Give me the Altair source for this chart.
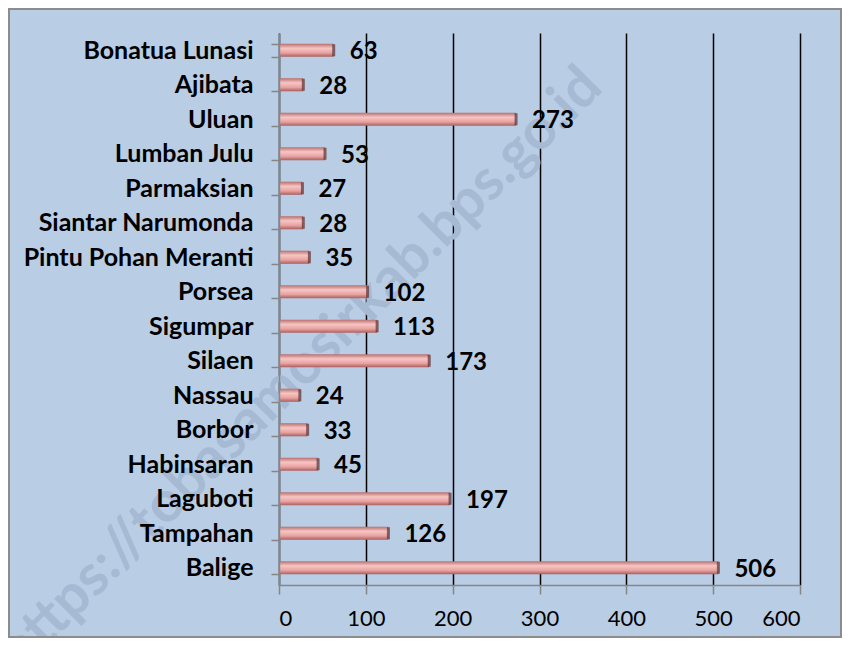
import altair as alt
import pandas as pd

categories = ["Bonatua Lunasi", "Ajibata", "Uluan", "Lumban Julu", "Parmaksian",
              "Siantar Narumonda", "Pintu Pohan Meranti", "Porsea", "Sigumpar",
              "Silaen", "Nassau", "Borbor", "Habinsaran", "Laguboti", "Tampahan", "Balige"]
values = [63, 28, 273, 53, 27, 28, 35, 102, 113, 173, 24, 33, 45, 197, 126, 506]
x_ticks = [0, 100, 200, 300, 400, 500, 600]
watermark = "https://tobasamosirkab.bps.go.id"

df = pd.DataFrame({"kec": categories, "val": values})

FONT = "Lato"
BG = "#B9CDE5"

y_enc = alt.Y("kec:N", sort=categories, title=None,
              scale=alt.Scale(paddingInner=0.62, paddingOuter=0.31),
              axis=alt.Axis(labelFont=FONT, labelFontWeight="bold", labelFontSize=25,
                            labelColor="#000000", labelPadding=18, labelLimit=400,
                            tickBand="extent", zindex=1,
                            tickSize=8, tickColor="#868686", domainColor="#868686",
                            domainWidth=1.5, tickWidth=1.5, grid=False))
x_enc = alt.X("val:Q", title=None,
              scale=alt.Scale(domain=[0, 600], nice=False),
              axis=alt.Axis(values=x_ticks, labelFont=FONT, labelFontSize=22,
                            labelColor="#000000", labelPadding=14, tickSize=9,
                            tickColor="#868686", tickWidth=1.5, domainColor="#868686",
                            domainWidth=1.5, grid=True, gridColor="#000000",
                            gridWidth=1.5))

grad = alt.Gradient(gradient="linear", x1=0, x2=0, y1=0, y2=1,
                    stops=[alt.GradientStop(color="#B86E6E", offset=0),
                           alt.GradientStop(color="#F6C6C4", offset=0.35),
                           alt.GradientStop(color="#E8A2A0", offset=0.7),
                           alt.GradientStop(color="#A85E5E", offset=1)])

wm = alt.Chart(pd.DataFrame({"t": [watermark]})).mark_text(
    align="center", baseline="middle", angle=315, font=FONT, fontSize=57,
    fontWeight="bold", color="#A6BAD3").encode(
    text="t:N", x=alt.value(22), y=alt.value(336))

bars = alt.Chart(df).mark_bar(color=grad).encode(y=y_enc, x=x_enc)

caps = alt.Chart(df).mark_tick(color="#5E3030", thickness=3, size=12, orient="vertical").encode(
    y=alt.Y("kec:N", sort=categories), x=alt.X("val:Q"))

labels = alt.Chart(df).mark_text(align="left", baseline="middle", dx=16, dy=2,
                                 font=FONT, fontWeight="bold", fontSize=24,
                                 color="#000000").encode(
    y=alt.Y("kec:N", sort=categories), x=alt.X("val:Q"), text=alt.Text("val:Q"))

border = alt.Chart(pd.DataFrame({"a": [0]})).mark_rect(
    fill=None, stroke="#8C8C8C", strokeWidth=2).encode(
    x=alt.value(-270), x2=alt.value(562), y=alt.value(-24), y2=alt.value(604))

chart = alt.layer(wm, bars, caps, labels, border).properties(
    width=521, height=552,
    autosize=alt.AutoSizeParams(type="none"),
    padding={"left": 271, "top": 25, "right": 42, "bottom": 53},
    background=BG,
).configure_view(stroke=None)

chart.save("out.html", embed_options={"renderer": "svg", "actions": False})
